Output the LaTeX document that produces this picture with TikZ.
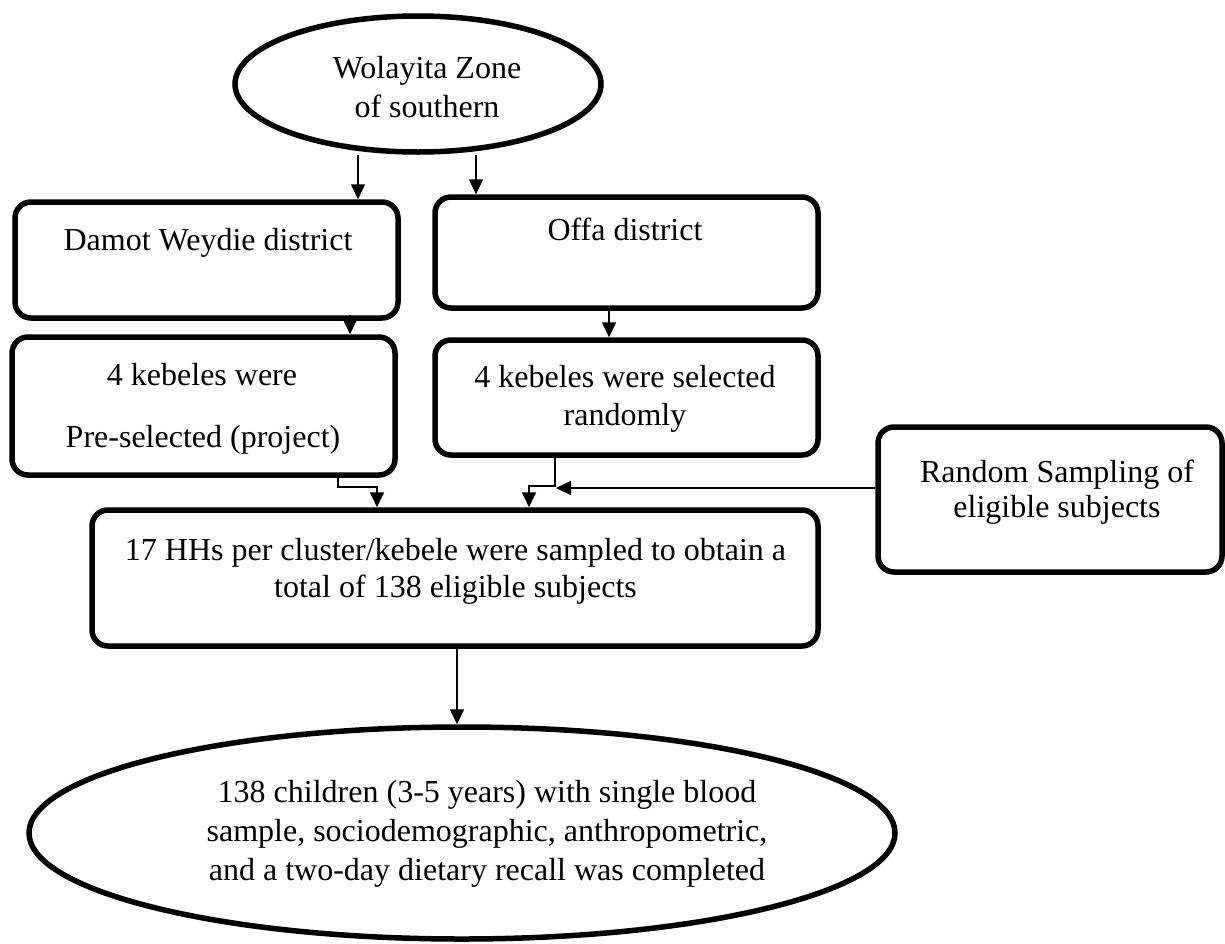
\documentclass[tikz,border=0pt]{standalone}
\usepackage{fontspec}
\setmainfont{Liberation Serif}
\usetikzlibrary{arrows.meta,shapes.geometric}
\begin{document}
\begin{tikzpicture}[x=1pt,y=-1pt,
  box/.style={draw, line width=5.5pt, rounded corners=16pt, inner sep=0pt},
  oval/.style={draw, ellipse, line width=5.5pt, inner sep=0pt},
  lbl/.style={anchor=base, inner sep=0pt, font=\fontsize{32}{38}\selectfont},
  arr/.style={line width=1.6pt, -{Triangle[width=14pt,length=15pt]}}]
\useasboundingbox (0,0) rectangle (1225,943);

% shapes
\node[oval, minimum width=366pt, minimum height=136pt] (top) at (418,84) {};
\node[box, minimum width=383pt, minimum height=116pt] (damot) at (206.5,260) {};
\node[box, minimum width=383pt, minimum height=111pt] (offa) at (626.5,252.5) {};
\node[box, minimum width=383pt, minimum height=138pt] (kl) at (203.5,406) {};
\node[box, minimum width=383pt, minimum height=115pt] (kr) at (626.5,397.5) {};
\node[box, minimum width=726pt, minimum height=136pt] (big) at (455,578) {};
\node[box, minimum width=344pt, minimum height=145pt] (rs) at (1050,499.5) {};
\node[oval, minimum width=866pt, minimum height=212pt] (bot) at (462,833) {};

% texts
\node[lbl] (t1) at (427,78) {Wolayita Zone};
\node[lbl] (t2) at (427,117) {of southern};
\node[lbl] (t3) at (208,250) {Damot Weydie district};
\node[lbl] (t4) at (625,240) {Offa district};
\node[lbl] (t5) at (202,385) {4 kebeles were};
\node[lbl] (t6) at (203,447) {Pre-selected (project)};
\node[lbl] (t7) at (625,387) {4 kebeles were selected};
\node[lbl] (t8) at (625,425) {randomly};
\node[lbl] (t9) at (455.5,560) {17 HHs per cluster/kebele were sampled to obtain a};
\node[lbl] (t10) at (455.5,597) {total of 138 eligible subjects};
\node[lbl] (t11) at (1057,482) {Random Sampling of};
\node[lbl] (t12) at (1057,517) {eligible subjects};
\node[lbl] (t13) at (487,802) {138 children (3-5 years) with single blood};
\node[lbl] (t14) at (487,841) {sample, sociodemographic, anthropometric,};
\node[lbl] (t15) at (487,880) {and a two-day dietary recall was completed};

% connectors
\coordinate (j) at (556,488);
\draw[arr] ([xshift=-60pt]top.south) -- ([xshift=-60pt]top.south |- damot.north);
\draw[arr] ([xshift=58pt]top.south) -- ([xshift=58pt]top.south |- offa.north);
\draw[arr] ([xshift=143.5pt,yshift=6pt]damot.south) -- ([xshift=146.5pt]kl.north);
\draw[arr] ([xshift=-17.5pt]offa.south) -- ([xshift=-17.5pt]kr.north);
\draw[arr] ([xshift=134.5pt]kl.south) -- ++(0,9) -| ([xshift=-78pt]big.north);
\draw[arr] ([xshift=-71.5pt]kr.south) -- ++(0,28) -| ([xshift=74pt]big.north);
\draw[arr] ([yshift=11.5pt]rs.west) -- (j);
\draw[arr] ([xshift=2pt]big.south) -- ([xshift=2pt]big.south |- bot.north);
\end{tikzpicture}
\end{document}
